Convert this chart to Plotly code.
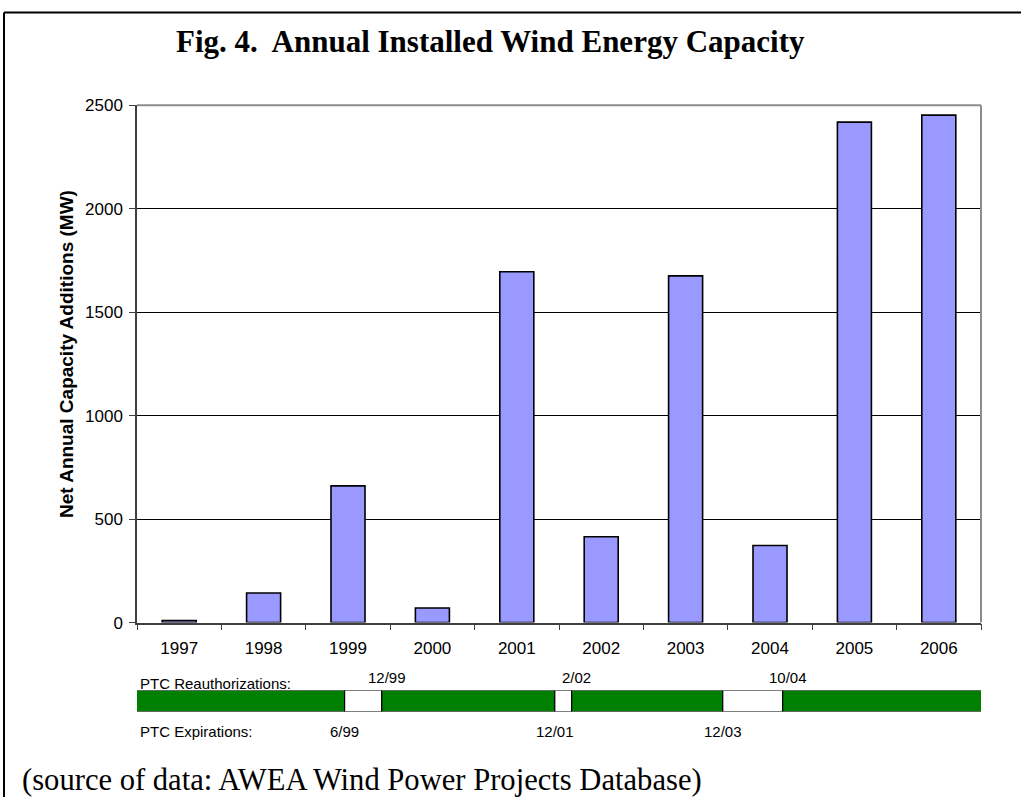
import plotly.graph_objects as go

# Net annual wind capacity additions (MW)
years = ["1997", "1998", "1999", "2000", "2001", "2002", "2003", "2004", "2005", "2006"]
capacity_mw = [10, 143, 661, 71, 1696, 415, 1676, 373, 2419, 2453]
y_ticks = [0, 500, 1000, 1500, 2000, 2500]

# Production Tax Credit timeline (fractional years)
timeline_start = 1996.97
timeline_end = 2007.03
expiry_labels = ["6/99", "12/01", "12/03"]
expiry_dates = [1999.46, 2001.95, 2003.94]
reauth_labels = ["12/99", "2/02", "10/04"]
reauth_dates = [1999.90, 2002.15, 2004.65]

SANS = "Liberation Sans, Arial, sans-serif"
SERIF = "Liberation Serif, Times New Roman, serif"

# Build alternating in-force / lapsed segments of the PTC bar
seg_start, seg_len, seg_color = [], [], []
edges = [timeline_start]
for e, r in zip(expiry_dates, reauth_dates):
    edges += [e, r]
edges.append(timeline_end)
for i in range(len(edges) - 1):
    seg_start.append(edges[i])
    seg_len.append(edges[i + 1] - edges[i])
    seg_color.append("#008000" if i % 2 == 0 else "#FFFFFF")

W, H = 1021, 812
# on-screen row = ROW_SCALE * figure row + ROW_OFFSET
ROW_SCALE, ROW_OFFSET = 0.978, 7.5
px_l, px_r, px_t, px_b = 137, 981, 104, 622
bar_t, bar_b = 690, 711


def fx(px):
    return px / W


def fy(py):
    row = (py - ROW_OFFSET) / ROW_SCALE
    return (H - row) / H


fig = go.Figure()

fig.add_trace(go.Bar(
    x=years, y=capacity_mw,
    marker=dict(color="#9999FF", line=dict(color="#000000", width=1.6)),
    xaxis="x", yaxis="y", showlegend=False, hoverinfo="x+y",
))

fig.add_trace(go.Bar(
    x=seg_len, base=seg_start, y=[0] * len(seg_len), orientation="h",
    width=1,
    marker=dict(color=seg_color, line=dict(color="#000000", width=1.2)),
    xaxis="x2", yaxis="y2", showlegend=False, hoverinfo="skip",
))

annotations = [
    dict(text="<b>Fig. 4.  Annual Installed Wind Energy Capacity</b>",
         x=fx(490), y=fy(40), xref="paper", yref="paper",
         xanchor="center", yanchor="middle", showarrow=False,
         font=dict(family=SERIF, size=31, color="#000000")),
    dict(text="(source of data: AWEA Wind Power Projects Database)",
         x=fx(20), y=fy(780), xref="paper", yref="paper",
         xanchor="left", yanchor="middle", showarrow=False,
         font=dict(family=SERIF, size=30.6, color="#000000")),
    dict(text="<b>Net Annual Capacity Additions (MW)</b>",
         x=fx(66), y=fy(353), xref="paper", yref="paper",
         xanchor="center", yanchor="middle", textangle=-90, showarrow=False,
         font=dict(family=SANS, size=19, color="#000000")),
    dict(text="PTC Reauthorizations:",
         x=fx(138), y=fy(683), xref="paper", yref="paper",
         xanchor="left", yanchor="middle", showarrow=False,
         font=dict(family=SANS, size=15, color="#000000")),
    dict(text="PTC Expirations:",
         x=fx(138), y=fy(731), xref="paper", yref="paper",
         xanchor="left", yanchor="middle", showarrow=False,
         font=dict(family=SANS, size=15, color="#000000")),
]
for lab, d in zip(reauth_labels, reauth_dates):
    annotations.append(dict(text=lab, x=d, y=fy(677), xref="x2", yref="paper",
                            xanchor="center", yanchor="middle", xshift=5,
                            showarrow=False,
                            font=dict(family=SANS, size=15, color="#000000")))
for lab, d in zip(expiry_labels, expiry_dates):
    annotations.append(dict(text=lab, x=d, y=fy(731), xref="x2", yref="paper",
                            xanchor="center", yanchor="middle",
                            showarrow=False,
                            font=dict(family=SANS, size=15, color="#000000")))

shapes = [
    # plot-area border on top and right
    dict(type="line", xref="paper", yref="paper",
         x0=fx(px_l), x1=fx(px_r), y0=fy(px_t), y1=fy(px_t),
         line=dict(color="#8C8C8C", width=2), layer="above"),
    dict(type="line", xref="paper", yref="paper",
         x0=fx(px_r), x1=fx(px_r), y0=fy(px_t), y1=fy(px_b),
         line=dict(color="#8C8C8C", width=2), layer="above"),
    # outer frame (left and top)
    dict(type="line", xref="paper", yref="paper",
         x0=fx(4), x1=fx(4), y0=0, y1=fy(11),
         line=dict(color="#000000", width=2)),
    dict(type="line", xref="paper", yref="paper",
         x0=fx(4), x1=1, y0=fy(11), y1=fy(11),
         line=dict(color="#000000", width=2)),
]

fig.update_layout(
    width=W, height=H,
    margin=dict(l=0, r=0, t=0, b=0),
    paper_bgcolor="#FFFFFF", plot_bgcolor="#FFFFFF",
    bargap=0.597,
    font=dict(family=SANS, color="#000000"),
    xaxis=dict(
        domain=[fx(px_l), fx(px_r)], anchor="y",
        type="category", tickson="boundaries",
        ticks="outside", ticklen=6, tickwidth=1.2, tickcolor="#404040",
        ticklabelstandoff=9,
        showline=True, linecolor="#404040", linewidth=1.5,
        showgrid=False, tickfont=dict(family=SANS, size=17, color="#000000"),
    ),
    yaxis=dict(
        domain=[fy(px_b), fy(px_t)], anchor="x",
        range=[0, 2500], tickvals=y_ticks,
        ticks="outside", ticklen=6, tickwidth=1.2, tickcolor="#404040",
        ticklabelstandoff=3,
        showline=True, linecolor="#404040", linewidth=1.5,
        showgrid=True, gridcolor="#000000", gridwidth=1, zeroline=False,
        tickfont=dict(family=SANS, size=17, color="#000000"),
    ),
    xaxis2=dict(
        domain=[fx(px_l), fx(px_r)], anchor="y2",
        range=[1997, 2007], visible=False,
    ),
    yaxis2=dict(
        domain=[fy(bar_b), fy(bar_t)], anchor="x2",
        range=[-0.5, 0.5], visible=False,
    ),
    annotations=annotations,
    shapes=shapes,
)

fig.write_html("out.html")
